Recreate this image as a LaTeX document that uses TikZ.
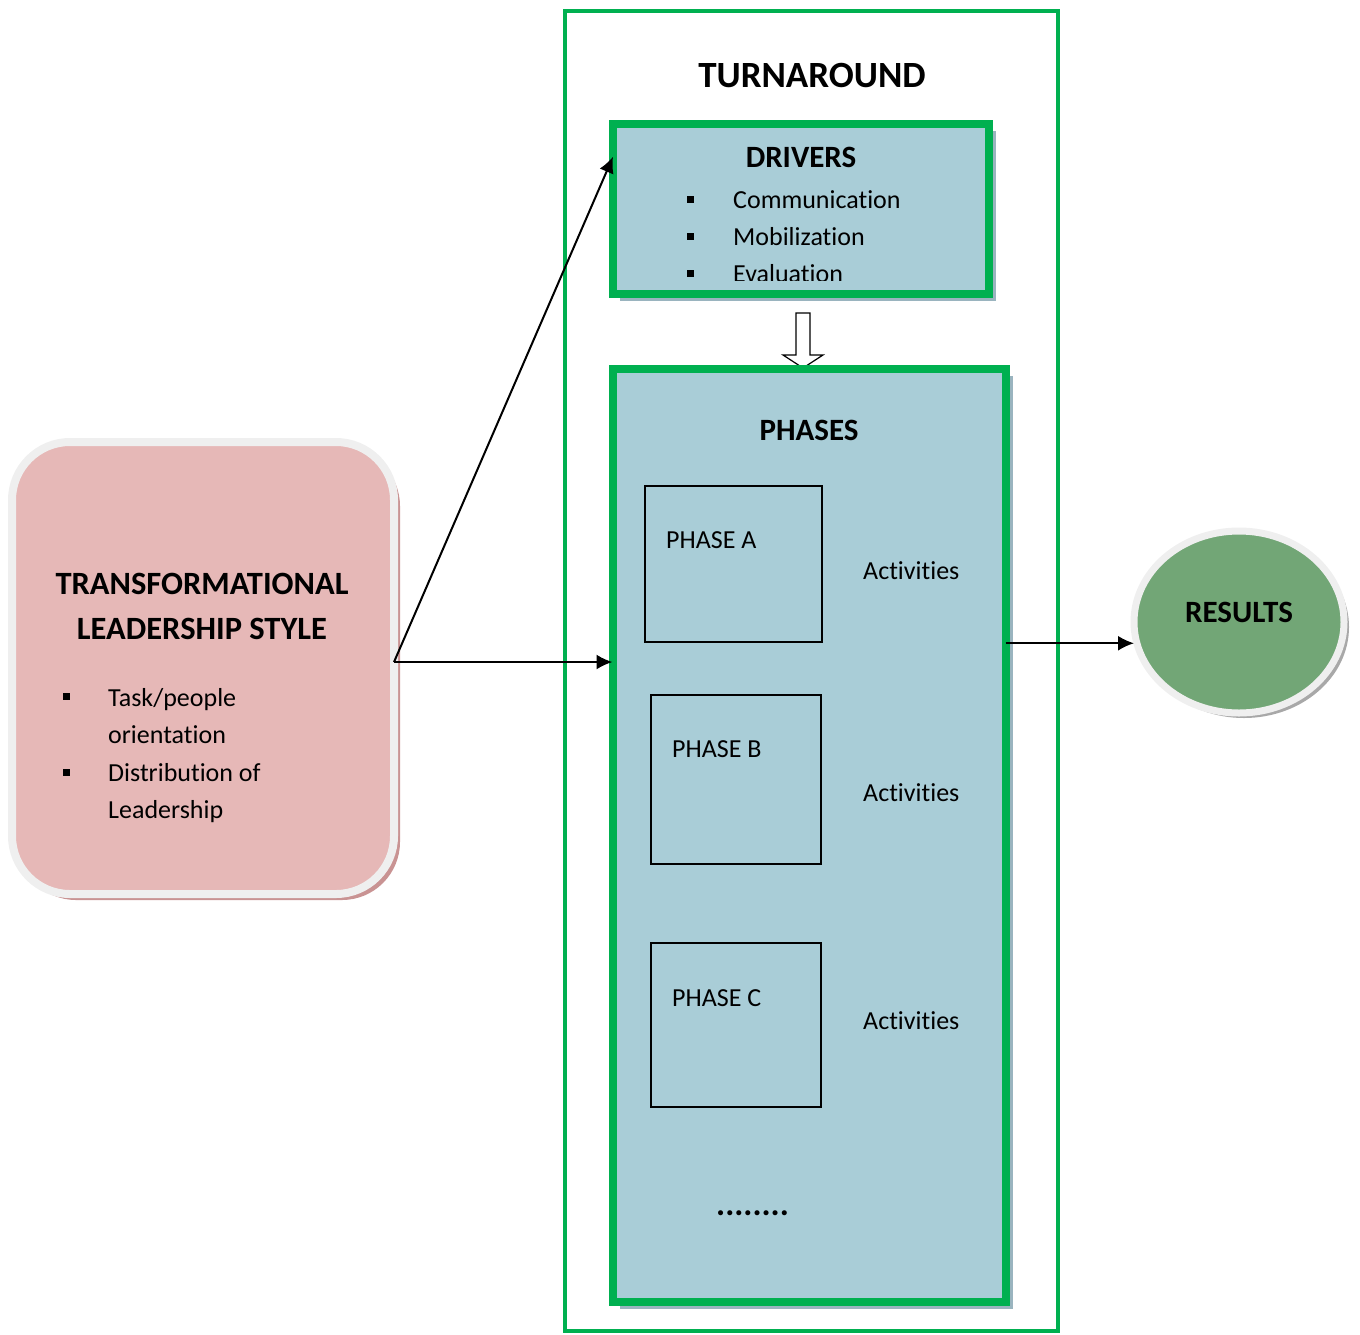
\documentclass[tikz,border=0pt]{standalone}
\usepackage{fontspec}
\setmainfont[Ligatures=NoCommon]{Carlito}
\usetikzlibrary{arrows.meta,shadows,shapes.geometric}
\definecolor{tgreen}{HTML}{00B050}
\definecolor{paleblue}{HTML}{A9CDD7}
\definecolor{blueshade}{HTML}{9AB4BF}
\definecolor{rosefill}{HTML}{E6B8B7}
\definecolor{roseshade}{HTML}{C99393}
\definecolor{rimgrey}{HTML}{EFEFEF}
\definecolor{resgreen}{HTML}{72A676}
\definecolor{resshade}{HTML}{A8A8A8}
\begin{document}
\begin{tikzpicture}[x=1pt,y=-1pt,
  greenbox/.style={draw=tgreen, line width=8, fill=paleblue, inner sep=0, outer sep=0,
    drop shadow={shadow xshift=7pt, shadow yshift=-7pt, fill=blueshade, opacity=1}},
  phasebox/.style={draw=black, line width=1.6, inner sep=0, outer sep=0},
  headtxt/.style={font=\fontsize{31}{37}\bfseries\selectfont, inner sep=0},
  bodytxt/.style={font=\fontsize{26}{31}\selectfont, inner sep=0},
  bulletsq/.style={fill=black, minimum size=7, inner sep=0},
  link/.style={-{Latex[length=16,width=15]}, line width=2}]
\useasboundingbox (0,0) rectangle (1360,1334);

% outer turnaround frame
\node[draw=tgreen, line width=4, minimum width=493, minimum height=1320, inner sep=0] (frame) at (811.5,671) {};
\node[font=\fontsize{37}{44}\bfseries\selectfont, inner sep=0, anchor=base] (turn) at (812,87) {TURNAROUND};

% drivers box
\node[greenbox, minimum width=376, minimum height=170.5] (drivers) at (801,208.75) {};
\node[headtxt, anchor=base] (drvTitle) at (801,167) {DRIVERS};
\node[bulletsq] (db1) at (690,199) {};
\node[bulletsq] (db2) at (690,236) {};
\node[bulletsq] (db3) at (690,273) {};
\node[bodytxt, anchor=base west] (drv1) at (733,208) {Communication};
\node[bodytxt, anchor=base west] (drv2) at (733,245) {Mobilization};
\begin{scope}
  \clip (620,150) rectangle (985,280);
  \node[bodytxt, anchor=base west] (drv3) at (733,282) {Evaluation};
\end{scope}

% hollow arrow from drivers down to phases
\draw[line width=1.2, fill=white] (796,313) -- (810,313) -- (810,355) -- (823,355)
  -- (803,368) -- (783,355) -- (796,355) -- cycle;

% phases box
\node[greenbox, minimum width=393, minimum height=932.5] (phases) at (809,835.25) {};
\node[headtxt, anchor=base] (phTitle) at (809,440) {PHASES};

\node[phasebox, minimum width=177, minimum height=156] (pa) at (733.5,564) {};
\node[phasebox, minimum width=170, minimum height=169] (pb) at (736,779.5) {};
\node[phasebox, minimum width=170, minimum height=164] (pc) at (736,1025) {};
\node[bodytxt, anchor=base west] (paT) at (666,548) {PHASE A};
\node[bodytxt, anchor=base west] (pbT) at (672,757) {PHASE B};
\node[bodytxt, anchor=base west] (pcT) at (672,1006) {PHASE C};
\node[bodytxt, anchor=base west] (actA) at (863,579) {Activities};
\node[bodytxt, anchor=base west] (actB) at (863,801) {Activities};
\node[bodytxt, anchor=base west] (actC) at (863,1029) {Activities};
\node[font=\fontsize{34}{40}\bfseries\selectfont, inner sep=0, anchor=base west] (more) at (716,1215) {........};

% leadership style box
\node[draw=rimgrey, line width=8, fill=rosefill, rounded corners=58, inner sep=0, outer sep=0,
  minimum width=382, minimum height=452,
  drop shadow={shadow xshift=6pt, shadow yshift=-6pt, fill=roseshade, opacity=1}]
  (lead) at (203,668) {};
\node[font=\fontsize{32.5}{39}\bfseries\selectfont, inner sep=0, anchor=base] (ld1) at (202,594) {TRANSFORMATIONAL};
\node[font=\fontsize{32.5}{39}\bfseries\selectfont, inner sep=0, anchor=base] (ld2) at (202,639) {LEADERSHIP STYLE};
\node[bulletsq] (lb1) at (66,696) {};
\node[bulletsq] (lb2) at (66,772) {};
\node[bodytxt, anchor=base west] (lt1) at (108,706) {Task/people};
\node[bodytxt, anchor=base west] (lt2) at (108,743) {orientation};
\node[bodytxt, anchor=base west] (lt3) at (108,781) {Distribution of};
\node[bodytxt, anchor=base west] (lt4) at (108,818) {Leadership};

% results
\node[ellipse, draw=rimgrey, line width=7, fill=resgreen, inner sep=0, outer sep=0,
  minimum width=210, minimum height=182,
  drop shadow={shadow xshift=5pt, shadow yshift=-5pt, fill=resshade, opacity=1}]
  (results) at (1239,622) {};
\node[headtxt] (resT) at ([yshift=10pt]results.center) {RESULTS};

% connectors
\coordinate (src) at ([yshift=6pt]lead.east);
\coordinate (drvIn) at ([yshift=52pt]drivers.west);
\coordinate (phOut) at ([yshift=192pt]phases.east);
\draw[link] (src) -- (drvIn);
\draw[link] (src) -- (phases.west |- src);
\draw[link] (phOut) -- (results.west |- phOut);
\end{tikzpicture}
\end{document}
